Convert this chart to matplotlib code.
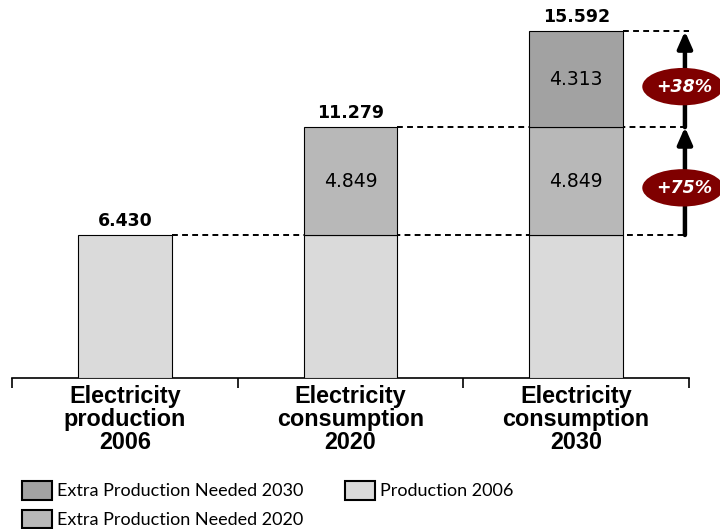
import matplotlib
matplotlib.use("Agg")
import matplotlib.pyplot as plt
from matplotlib.patches import Ellipse, Patch
from matplotlib import font_manager
import numpy as np

categories = ["Electricity\nproduction\n2006", "Electricity\nconsumption\n2020", "Electricity\nconsumption\n2030"]
production_2006 = [6430, 6430, 6430]
extra_2020 = [0, 4849, 4849]
extra_2030 = [0, 0, 4313]
totals = [6430, 11279, 15592]
total_labels = ["6.430", "11.279", "15.592"]
extra_2020_labels = ["", "4.849", "4.849"]
extra_2030_labels = ["", "", "4.313"]
growth_labels = ["+75%", "+38%"]
legend_labels = ["Extra Production Needed 2030", "Extra Production Needed 2020", "Production 2006"]

c2006 = "#dadada"
c2020 = "#b8b8b8"
c2030 = "#a2a2a2"
red = "#7f0000"

cat_fp = None
for f in font_manager.fontManager.ttflist:
    if f.name == "Liberation Sans" and f.weight in (700, "bold") and f.style == "normal" \
            and "Narrow" not in f.fname:
        cat_fp = font_manager.FontProperties(fname=f.fname, size=16.8)
        break
if cat_fp is None:
    cat_fp = font_manager.FontProperties(family="Liberation Sans", weight="bold", size=16.8)

fig = plt.figure(figsize=(7.2, 5.29), dpi=100)
ax = fig.add_axes([12/720, 151/529, 677/720, 367/529])
ax.set_xlim(-0.5, 2.5)
ax.set_ylim(0, 16500)

x = np.arange(len(categories))
w = 0.4165
b1 = np.array(production_2006)
b2 = np.array(extra_2020)
b3 = np.array(extra_2030)
ax.bar(x, b1, w, color=c2006, edgecolor="black", linewidth=0.8, zorder=3)
m2 = b2 > 0
ax.bar(x[m2], b2[m2], w, bottom=b1[m2], color=c2020, edgecolor="black", linewidth=0.8, zorder=3)
m3 = b3 > 0
ax.bar(x[m3], b3[m3], w, bottom=(b1 + b2)[m3], color=c2030, edgecolor="black", linewidth=0.8, zorder=3)

for i in range(len(categories)):
    ax.text(x[i], totals[i] + 230, total_labels[i], ha="center", va="bottom",
            fontsize=12.5, fontweight="bold", family="DejaVu Sans", zorder=5)
    if extra_2020_labels[i]:
        ax.text(x[i], b1[i] + b2[i] / 2, extra_2020_labels[i], ha="center", va="center",
                fontsize=13.5, family="DejaVu Sans", zorder=5)
    if extra_2030_labels[i]:
        ax.text(x[i], b1[i] + b2[i] + b3[i] / 2, extra_2030_labels[i], ha="center", va="center",
                fontsize=13.5, family="DejaVu Sans", zorder=5)

xa = 2.482
for i in range(len(totals)):
    ax.plot([x[i] + w / 2, 2.5 if i == 2 else xa], [totals[i], totals[i]], color="black",
            linestyle=(0, (3, 2.2)), linewidth=1.4, zorder=2, clip_on=False)

for lo, hi in [(totals[0], totals[1]), (totals[1], totals[2])]:
    ax.annotate("", xy=(xa, hi), xytext=(xa, lo),
                arrowprops=dict(arrowstyle="-|>,head_length=0.5,head_width=0.22", lw=3.2,
                                color="black", shrinkA=0, shrinkB=0, mutation_scale=20),
                annotation_clip=False, zorder=6)

for yc, lab in zip([8550, 13100], growth_labels):
    e = Ellipse((2.473, yc), 0.36, 1680, facecolor=red, edgecolor="none", zorder=7, clip_on=False)
    ax.add_patch(e)
    ax.text(2.48, yc, lab, ha="center", va="center", color="white", fontsize=12.5,
            fontweight="bold", fontstyle="italic", family="DejaVu Sans", zorder=8, clip_on=False)

for s in ["top", "right", "left"]:
    ax.spines[s].set_visible(False)
ax.spines["bottom"].set_linewidth(1.2)
ax.set_yticks([])
ax.set_xticks([-0.5, 0.5, 1.5, 2.5])
ax.set_xticklabels([])
ax.tick_params(axis="x", which="major", length=7, width=1.2, direction="out")
ax.set_xticks(x, minor=True)
ax.set_xticklabels(categories, minor=True, fontproperties=cat_fp, linespacing=1.0)
ax.tick_params(axis="x", which="minor", length=0, pad=5)

handles = [Patch(facecolor=c2030, edgecolor="black", linewidth=1.5),
           Patch(facecolor=c2020, edgecolor="black", linewidth=1.5),
           Patch(facecolor=c2006, edgecolor="black", linewidth=1.5)]
fig.legend(handles, legend_labels, loc="upper left", bbox_to_anchor=(22/720, 48/529),
           ncol=2, frameon=False, borderpad=0, borderaxespad=0, handlelength=1.65,
           handleheight=1.2, handletextpad=0.3, labelspacing=0.56, columnspacing=2.3,
           prop={"family": "Lato", "size": 13})

fig.savefig("out.png", dpi=100)
